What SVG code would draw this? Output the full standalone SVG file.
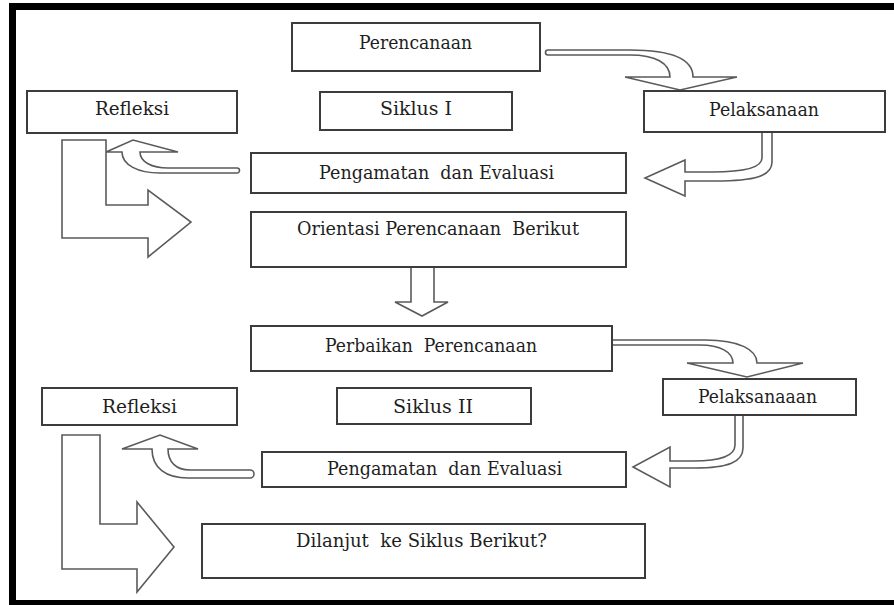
<svg xmlns="http://www.w3.org/2000/svg" width="894" height="605" viewBox="0 0 894 605">
<style>
.box{fill:#fff;stroke:#3c3c3c;stroke-width:2}
.arr{fill:#fff;stroke:#5a5a5a;stroke-width:1.6;stroke-linejoin:miter}
.lbl{font-family:'DejaVu Serif','Liberation Serif',serif;font-size:19px;fill:#1e1e1e}
</style>
<rect x="0" y="0" width="894" height="605" fill="#fff"/>
<g id="frame" fill="#000">
<rect x="9" y="3" width="885" height="7"/>
<rect x="9" y="3" width="7" height="602"/>
<rect x="9" y="600" width="885" height="5"/>
</g>
<g id="connectors">
<path class="arr" d="M548,50 L630,50 C670,50 693,58 693,77 L737,77 L680,90 L625,77 L670,77 C670,63 655,55 630,55 L548,55 A2.5,2.5 0 0 1 548,50 Z"/>
<path class="arr" d="M762,132 L772,132 L772,162 C772,176 755,181 715,181 L685,181 L685,196 L645,178 L685,160 L685,172 L712,172 C750,172 762,166 762,158 Z"/>
<path class="arr" d="M237,168 L168,168 C152,168 140,162 140,152 L178,152 L133,140 L106,152 L122,152 C122,165 138,173 160,173 L237,173 A2.5,2.5 0 0 0 237,168 Z"/>
<path class="arr" d="M62,140 L106,140 L106,205 L148,205 L148,190 L191,222 L148,257 L148,238 L62,238 Z"/>
<path class="arr" d="M411,267 L411,302 L395,302 L422,316 L448,302 L434,302 L434,267 Z"/>
<path class="arr" d="M612,340 L705,340 C740,340 757,350 757,363 L803,363 L747,377 L687,363 L733,363 C733,352 720,345 700,345 L612,345 Z"/>
<path class="arr" d="M735,415 L743,415 L743,448 C743,462 728,468 695,468 L670,468 L670,487 L633,467 L670,447 L670,461 L693,461 C722,461 735,455 735,445 Z"/>
<path class="arr" d="M250,470 L190,470 C176,470 168,462 168,449 L198,449 L160,435 L122,449 L152,449 C152,468 166,478 188,478 L250,478 A4,4 0 0 0 250,470 Z"/>
<path class="arr" d="M62,435 L100,435 L100,524 L137,524 L137,502 L174,547 L137,592 L137,569 L62,569 Z"/>
</g>
<g id="perencanaan"><rect class="box" x="292" y="23" width="248" height="48"/><text class="lbl" x="359" y="49" textLength="113" lengthAdjust="spacingAndGlyphs">Perencanaan</text></g>
<g id="refleksi1"><rect class="box" x="27" y="91" width="210" height="42"/><text class="lbl" x="95" y="115" textLength="74" lengthAdjust="spacingAndGlyphs">Refleksi</text></g>
<g id="siklus1"><rect class="box" x="320" y="92" width="192" height="38"/><text class="lbl" x="380" y="115" textLength="72" lengthAdjust="spacingAndGlyphs">Siklus I</text></g>
<g id="pelaksanaan1"><rect class="box" x="644" y="91" width="241" height="41"/><text class="lbl" x="709" y="116" textLength="110" lengthAdjust="spacingAndGlyphs">Pelaksanaan</text></g>
<g id="pengamatan1"><rect class="box" x="251" y="153" width="375" height="40"/><text class="lbl" x="319" y="179" textLength="235" lengthAdjust="spacingAndGlyphs" xml:space="preserve">Pengamatan  dan Evaluasi</text></g>
<g id="orientasi"><rect class="box" x="251" y="212" width="375" height="55"/><text class="lbl" x="297" y="235" textLength="282" lengthAdjust="spacingAndGlyphs" xml:space="preserve">Orientasi Perencanaan  Berikut</text></g>
<g id="perbaikan"><rect class="box" x="251" y="326" width="361" height="45"/><text class="lbl" x="325" y="352" textLength="212" lengthAdjust="spacingAndGlyphs" xml:space="preserve">Perbaikan  Perencanaan</text></g>
<g id="refleksi2"><rect class="box" x="42" y="388" width="195" height="37"/><text class="lbl" x="102" y="413" textLength="75" lengthAdjust="spacingAndGlyphs">Refleksi</text></g>
<g id="siklus2"><rect class="box" x="337" y="388" width="194" height="36"/><text class="lbl" x="393" y="413" textLength="80" lengthAdjust="spacingAndGlyphs">Siklus II</text></g>
<g id="pelaksanaan2"><rect class="box" x="663" y="379" width="193" height="36"/><text class="lbl" x="698" y="403" textLength="119" lengthAdjust="spacingAndGlyphs">Pelaksanaaan</text></g>
<g id="pengamatan2"><rect class="box" x="262" y="452" width="364" height="35"/><text class="lbl" x="327" y="475" textLength="235" lengthAdjust="spacingAndGlyphs" xml:space="preserve">Pengamatan  dan Evaluasi</text></g>
<g id="dilanjut"><rect class="box" x="202" y="524" width="443" height="54"/><text class="lbl" x="296" y="547" textLength="251" lengthAdjust="spacingAndGlyphs" xml:space="preserve">Dilanjut  ke Siklus Berikut?</text></g>
</svg>
